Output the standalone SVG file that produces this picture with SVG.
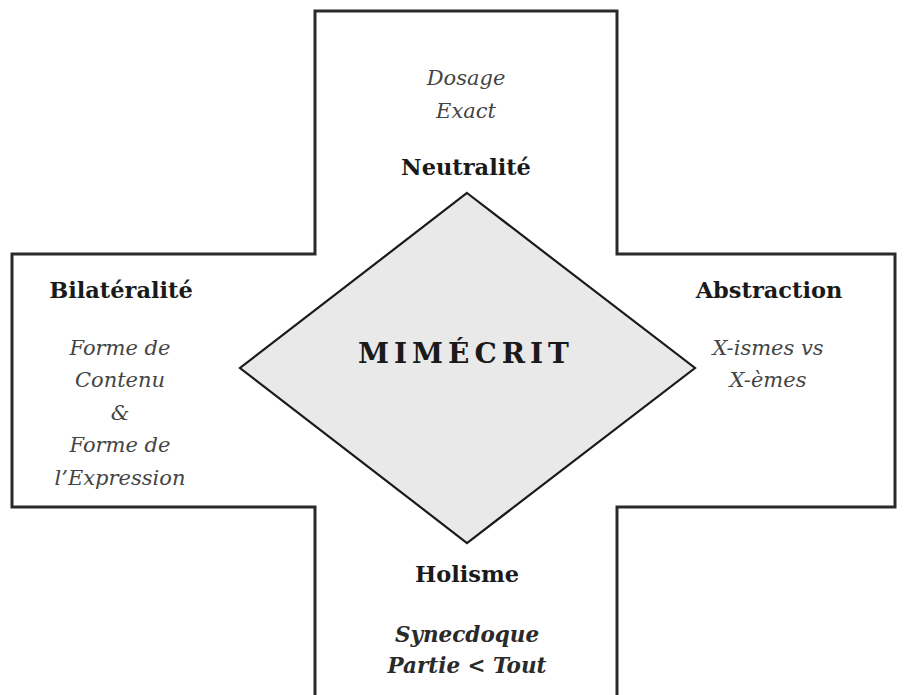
<svg xmlns="http://www.w3.org/2000/svg" width="907" height="695" viewBox="0 0 907 695">
<style>
.frame{fill:#fff;stroke:#2a2a2a;stroke-width:3;stroke-linejoin:miter}
.dia{fill:#e9e9e9;stroke:#1a1a1a;stroke-width:2.2;stroke-linejoin:miter}
.lbl{font-family:"DejaVu Serif","Liberation Serif",serif;font-weight:bold;font-size:22.5px;fill:#1a1a1a;text-anchor:middle}
.it{font-family:"DejaVu Serif","Liberation Serif",serif;font-style:italic;font-size:21px;fill:#444;text-anchor:middle}
.itb{font-family:"DejaVu Serif","Liberation Serif",serif;font-style:italic;font-weight:bold;font-size:21.5px;fill:#2a2a2a;text-anchor:middle}
.title{font-family:"DejaVu Serif","Liberation Serif",serif;font-weight:bold;font-size:28px;fill:#1a1a1a;text-anchor:middle;letter-spacing:5px}
</style>
<rect width="907" height="695" fill="#fff"/>
<g id="cross">
<path class="frame" d="M315,700 L315,507 L12,507 L12,254 L315,254 L315,11 L617,11 L617,254 L895,254 L895,507 L617,507 L617,700"/>
</g>
<g id="mimecrit">
<polygon class="dia" points="467,193 695,368 467,543 240,368"/>
<text class="title" x="466" y="363">MIMÉCRIT</text>
</g>
<g id="neutralite">
<text class="it" x="466" y="85">Dosage</text>
<text class="it" x="466" y="118">Exact</text>
<text class="lbl" x="466" y="175">Neutralité</text>
</g>
<g id="bilateralite">
<text class="lbl" x="121" y="298">Bilatéralité</text>
<text class="it" x="120" y="355">Forme de</text>
<text class="it" x="120" y="387">Contenu</text>
<text class="it" x="120" y="420">&amp;</text>
<text class="it" x="120" y="452">Forme de</text>
<text class="it" x="120" y="485">l’Expression</text>
</g>
<g id="abstraction">
<text class="lbl" x="769" y="298">Abstraction</text>
<text class="it" x="768" y="355">X-ismes vs</text>
<text class="it" x="768" y="387">X-èmes</text>
</g>
<g id="holisme">
<text class="lbl" x="467" y="582">Holisme</text>
<text class="itb" x="467" y="642">Synecdoque</text>
<text class="itb" x="467" y="673">Partie &lt; Tout</text>
</g>
</svg>
